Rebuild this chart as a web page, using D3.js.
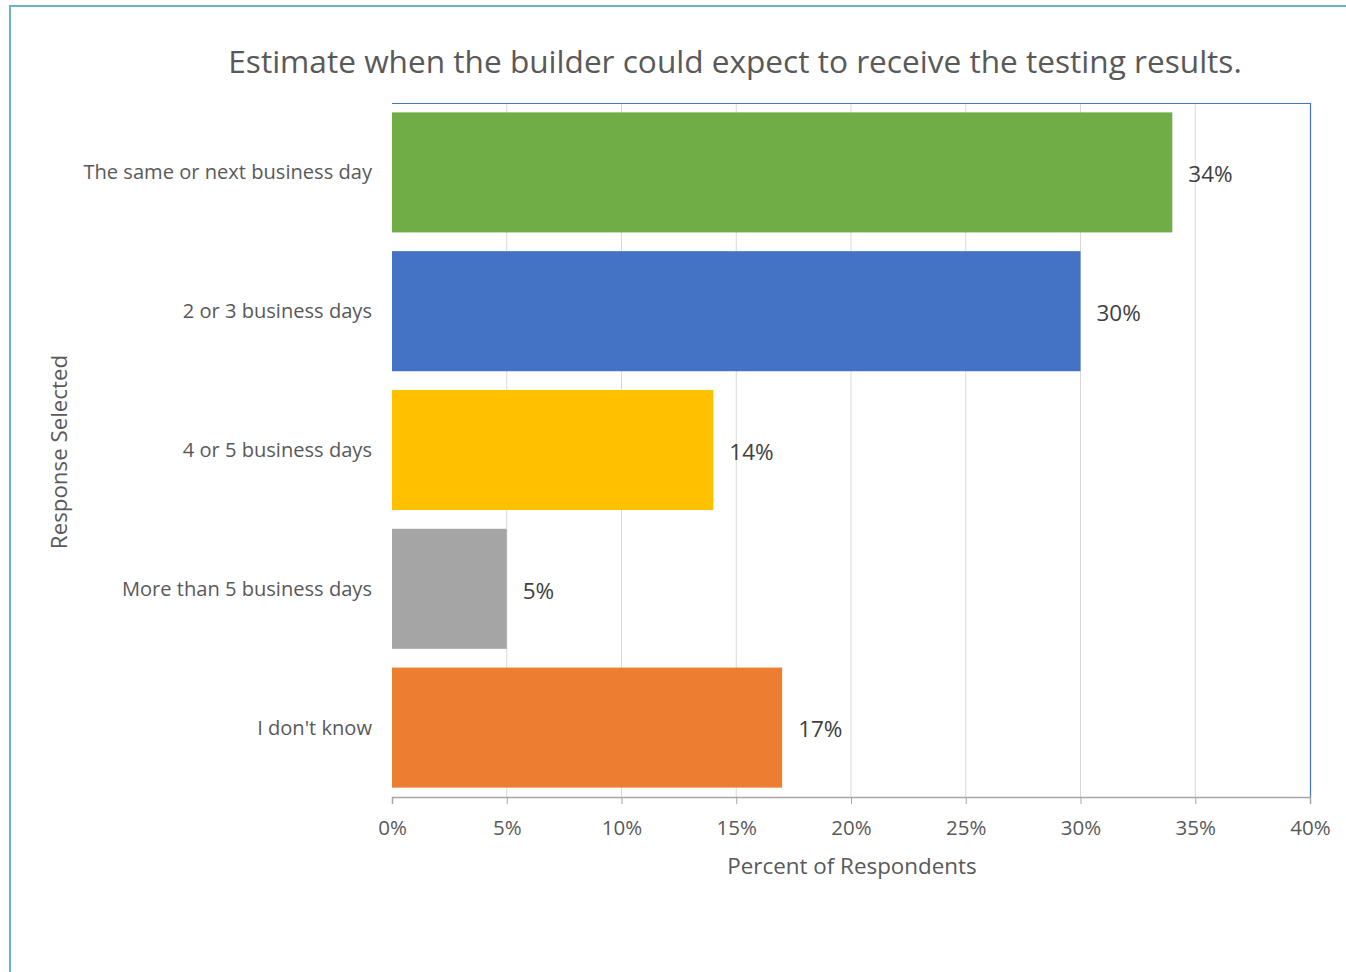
<!DOCTYPE html>
<html>
<head>
<meta charset="utf-8">
<script src="https://cdn.jsdelivr.net/npm/d3@7"></script>
<style>
  body { margin: 0; background: #fff; }
  text { font-family: "Open Sans", Lato, sans-serif; }
</style>
</head>
<body>
<script>
const categories = ["The same or next business day", "2 or 3 business days", "4 or 5 business days", "More than 5 business days", "I don't know"]
const values = [34, 30, 14, 5, 17]
const colors = ["#70ad47", "#4472c4", "#ffc000", "#a5a5a5", "#ed7d31"]
const ticks = [0, 5, 10, 15, 20, 25, 30, 35, 40]

const m = { width: 1346, height: 972 }
const plot = { left: 392, right: 1310, top: 103, bottom: 797 }

const svg = d3.select("body").append("svg")
    .attr("width", m.width)
    .attr("height", m.height)

// outer chart frame
svg.append("rect")
    .attr("x", 10).attr("y", 6)
    .attr("width", 1400).attr("height", 1000)
    .attr("fill", "#fff")
    .attr("stroke", "#6cb2c9")
    .attr("stroke-width", 2)

const x = d3.scaleLinear().domain([0, 40]).range([plot.left, plot.right])
const y = d3.scaleBand().domain(categories).range([plot.top, plot.bottom])
    .paddingInner(0.135).paddingOuter(0.0675)

// gridlines
svg.append("g").selectAll("line")
    .data(ticks.slice(1, -1))
    .enter().append("line")
        .attr("x1", d => x(d)).attr("x2", d => x(d))
        .attr("y1", plot.top).attr("y2", plot.bottom)
        .attr("stroke", "#d9d9d9")
        .attr("stroke-width", 1)

// plot area border (top + right)
svg.append("path")
    .attr("d", `M${plot.left},${plot.top + 0.5}H${plot.right + 0.5}V${plot.bottom}`)
    .attr("fill", "none")
    .attr("stroke", "#4472c4")
    .attr("stroke-width", 1.2)

// bars
svg.append("g").selectAll("rect")
    .data(values)
    .enter().append("rect")
        .attr("x", x(0))
        .attr("y", (d, i) => y(categories[i]))
        .attr("width", d => x(d) - x(0))
        .attr("height", y.bandwidth())
        .attr("fill", (d, i) => colors[i])

// data labels
svg.append("g").selectAll("text")
    .data(values)
    .enter().append("text")
        .attr("x", d => x(d) + 16)
        .attr("y", (d, i) => y(categories[i]) + y.bandwidth() / 2 + 2)
        .attr("dy", "0.35em")
        .attr("font-size", 22.5)
        .attr("fill", "#404040")
        .text(d => d + "%")

// x axis
const xAxis = svg.append("g")
    .attr("transform", `translate(0,${plot.bottom})`)
    .call(d3.axisBottom(x).tickValues(ticks).tickFormat(d => d + "%").tickSize(7).tickPadding(16))
xAxis.select(".domain").attr("stroke", "#a6a6a6").attr("stroke-width", 1.5)
xAxis.selectAll(".tick line").attr("stroke", "#a6a6a6")
xAxis.selectAll(".tick text")
    .attr("font-size", 20.5)
    .attr("fill", "#595959")
    .style("font-family", "'Open Sans', Lato, sans-serif")

// category labels
svg.append("g").selectAll("text")
    .data(categories)
    .enter().append("text")
        .attr("x", 372)
        .attr("y", d => y(d) + y.bandwidth() / 2)
        .attr("dy", "0.35em")
        .attr("text-anchor", "end")
        .attr("font-size", 20.1)
        .attr("fill", "#595959")
        .text(d => d)

// title
svg.append("text")
    .attr("x", 735).attr("y", 73)
    .attr("text-anchor", "middle")
    .attr("font-size", 31.6)
    .attr("fill", "#595959")
    .text("Estimate when the builder could expect to receive the testing results.")

// axis titles
svg.append("text")
    .attr("x", 852).attr("y", 874)
    .attr("text-anchor", "middle")
    .attr("font-size", 22.4)
    .attr("fill", "#595959")
    .text("Percent of Respondents")

svg.append("text")
    .attr("transform", "translate(67,452) rotate(-90)")
    .attr("text-anchor", "middle")
    .attr("font-size", 22.3)
    .attr("fill", "#595959")
    .text("Response Selected")
</script>
</body>
</html>
